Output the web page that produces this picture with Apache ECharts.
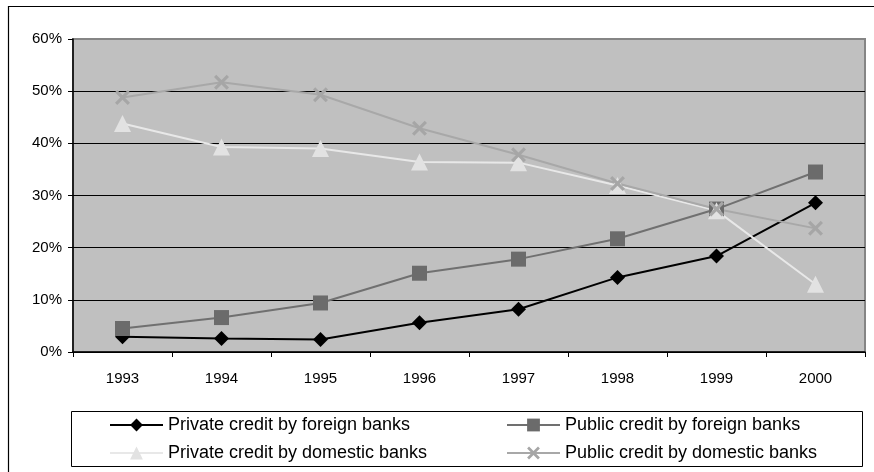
<!DOCTYPE html>
<html>
<head>
<meta charset="utf-8">
<script src="https://cdn.jsdelivr.net/npm/echarts@6/dist/echarts.min.js"></script>
<style>
  html, body { margin: 0; padding: 0; background: #ffffff; }
  #chart { width: 874px; height: 472px; }
</style>
</head>
<body>
<div id="chart"></div>
<script>
// Years on the category axis
const years = ['1993', '1994', '1995', '1996', '1997', '1998', '1999', '2000'];

// Credit shares, in percent
const privateForeign  = [2.9, 2.6, 2.4, 5.6, 8.2, 14.3, 18.4, 28.6];
const publicForeign   = [4.5, 6.6, 9.4, 15.1, 17.8, 21.7, 27.4, 34.5];
const privateDomestic = [43.8, 39.3, 39.0, 36.4, 36.3, 31.9, 27.1, 13.0];
const publicDomestic  = [48.8, 51.7, 49.3, 42.9, 37.8, 32.3, 27.4, 23.7];

// Value axis ticks
const yTicks = [0, 10, 20, 30, 40, 50, 60];

const names = [
  'Private credit by foreign banks',
  'Public credit by foreign banks',
  'Private credit by domestic banks',
  'Public credit by domestic banks'
];

const FONT = '"Liberation Sans", Arial, sans-serif';
const crossPath = 'path://M0,1.5 L1.5,0 L5,3.5 L8.5,0 L10,1.5 L6.5,5 L10,8.5 L8.5,10 L5,6.5 L1.5,10 L0,8.5 L3.5,5 Z';

function lineSeries(name, data, color, symbol, size, width, markerColor) {
  return {
    name: name,
    type: 'line',
    data: data,
    symbol: symbol,
    symbolSize: size,
    showAllSymbol: true,
    lineStyle: { color: color, width: width },
    itemStyle: { color: markerColor || color, borderWidth: 0 },
    emphasis: { disabled: true },
    z: 3
  };
}

// One legend entry per component so the two columns line up
function legendItem(name, left, top) {
  return {
    show: true,
    orient: 'horizontal',
    left: left,
    top: top,
    padding: 0,
    itemWidth: 53,
    itemHeight: 16,
    selectedMode: false,
    data: [name],
    textStyle: { fontFamily: FONT, fontSize: 18, color: '#000000' }
  };
}

const chart = echarts.init(document.getElementById('chart'), null, { renderer: 'canvas' });

chart.setOption({
  animation: false,
  backgroundColor: '#ffffff',
  textStyle: { fontFamily: FONT },
  graphic: [
    {
      type: 'rect',
      shape: { x: 8.5, y: 6.5, width: 900, height: 520 },
      style: { fill: 'none', stroke: '#000000', lineWidth: 1.2 },
      z: -10, silent: true
    },
    {
      type: 'rect',
      shape: { x: 71.5, y: 411.5, width: 791, height: 55 },
      style: { fill: 'none', stroke: '#000000', lineWidth: 1 },
      z: -10, silent: true
    }
  ],
  legend: [
    legendItem(names[0], 109, 416),
    legendItem(names[2], 109, 444),
    legendItem(names[1], 506, 416),
    legendItem(names[3], 506, 444)
  ],
  grid: {
    left: 73, right: 9, top: 39, bottom: 120,
    show: true,
    backgroundColor: '#c0c0c0',
    borderColor: '#858585',
    borderWidth: 2
  },
  xAxis: {
    type: 'category',
    data: years,
    boundaryGap: true,
    axisLine: { lineStyle: { color: '#000000', width: 1.5 } },
    axisTick: { show: true, alignWithLabel: false, length: 5, lineStyle: { color: '#000000' } },
    axisLabel: { color: '#000000', fontFamily: FONT, fontSize: 15, margin: 19 },
    splitLine: { show: false }
  },
  yAxis: {
    type: 'value',
    min: yTicks[0],
    max: yTicks[yTicks.length - 1],
    interval: 10,
    axisLine: { show: true, lineStyle: { color: '#000000', width: 1.5 } },
    axisTick: { show: true, length: 5, lineStyle: { color: '#000000' } },
    axisLabel: { color: '#000000', fontFamily: FONT, fontSize: 15, margin: 11, formatter: '{value}%' },
    splitLine: {
      show: true,
      lineStyle: { color: ['#000000', '#000000', '#000000', '#000000', '#000000', '#000000', '#858585'], width: 1 }
    }
  },
  series: [
    lineSeries(names[0], privateForeign, '#000000', 'diamond', 15, 2),
    lineSeries(names[1], publicForeign, '#707070', 'rect', 15, 2, '#6b6b6b'),
    lineSeries(names[2], privateDomestic, '#e8e8e8', 'triangle', 17, 2, '#e2e2e2'),
    lineSeries(names[3], publicDomestic, '#a8a8a8', crossPath, 15, 2, '#a6a6a6')
  ]
});
</script>
</body>
</html>
